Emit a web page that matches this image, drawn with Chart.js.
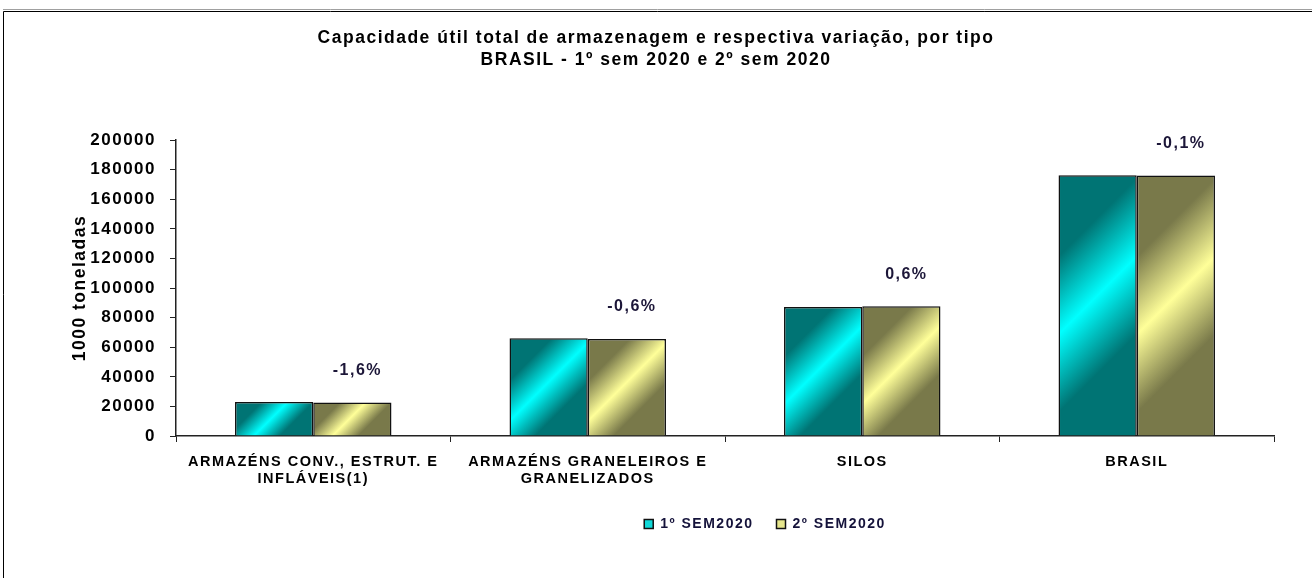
<!DOCTYPE html>
<html>
<head>
<meta charset="utf-8">
<script src="https://cdn.jsdelivr.net/npm/chart.js@4.4.1/dist/chart.umd.min.js"></script>
<style>
  html, body { margin: 0; padding: 0; background: #fff; overflow: hidden; }
  #wrap { width: 1312px; height: 578px; position: relative; }
</style>
</head>
<body>
<div id="wrap"><canvas id="chart" width="1312" height="578"></canvas></div>
<script>
const categories = [
    ['ARMAZÉNS CONV., ESTRUT. E', 'INFLÁVEIS(1)'],
    ['ARMAZÉNS GRANELEIROS E', 'GRANELIZADOS'],
    'SILOS',
    'BRASIL',
];
const seriesNames = ['1º SEM2020', '2º SEM2020'];
const sem1 = [23000, 66000, 87200, 176300];
const sem2 = [22600, 65600, 87700, 176100];
const variation = ['-1,6%', '-0,6%', '0,6%', '-0,1%'];
const yMin = 0, yMax = 200000, yStep = 20000;

const FONT = '"Liberation Sans", Arial, sans-serif';
const CAT_PCT = 0.57;
const teal = ['#007474', '#00ffff'];
const olive = ['#79794a', '#ffff99'];

// degradê diagonal tipo Excel
function barFill(ctx, colors) {
    const chart = ctx.chart;
    const xs = chart.scales.x, ys = chart.scales.y;
    if (ctx.type !== 'data' || !xs || !ys) return colors[1];
    const n = chart.data.labels.length;
    const bw = xs.width / n * CAT_PCT / 2;
    const cx = xs.getPixelForValue(ctx.dataIndex) + (ctx.datasetIndex === 0 ? -bw / 2 : bw / 2);
    const top = ys.getPixelForValue(ctx.raw), base = ys.getPixelForValue(0);
    const cy = (top + base) / 2;
    const d = (bw + (base - top)) / 4;
    const g = chart.ctx.createLinearGradient(cx - d, cy - d, cx + d, cy + d);
    g.addColorStop(0, colors[0]);
    g.addColorStop(0.24, colors[0]);
    g.addColorStop(0.47, colors[1]);
    g.addColorStop(0.7, colors[0]);
    g.addColorStop(1, colors[0]);
    return g;
}

// texto do Excel é mais espaçado
const spacing = {
    id: 'spacing',
    beforeUpdate(chart) { chart.ctx.letterSpacing = '1.5px'; },
    afterLayout(chart) {
        // legenda deslocada para a direita como no original
        chart.legend.left += 109;
        chart.legend.right += 109;
    },
    beforeDraw(chart) {
        const c = chart.ctx;
        c.letterSpacing = '1.5px';
        c.save();
        c.fillStyle = '#fff';
        c.fillRect(0, 0, chart.width, chart.height);
        c.strokeStyle = '#a0a0a0';
        c.lineWidth = 1;
        c.beginPath(); c.moveTo(3, 9.5); c.lineTo(chart.width, 9.5); c.stroke();
        c.strokeStyle = '#000';
        c.beginPath(); c.moveTo(3.5, chart.height); c.lineTo(3.5, 11.5); c.lineTo(chart.width, 11.5); c.stroke();
        c.restore();
    }
};

const pctLabels = {
    id: 'pctLabels',
    afterDatasetsDraw(chart) {
        const c = chart.ctx;
        const meta = chart.getDatasetMeta(1);
        c.save();
        c.font = 'bold 16px ' + FONT;
        c.fillStyle = '#1c1638';
        c.textAlign = 'center';
        c.textBaseline = 'middle';
        meta.data.forEach(function(bar, i) {
            c.fillText(variation[i], bar.x + 5, bar.y - 32);
        });
        c.restore();
    }
};

new Chart(document.getElementById('chart'), {
    type: 'bar',
    data: {
        labels: categories,
        datasets: [
            { label: seriesNames[0], data: sem1, backgroundColor: function(ctx) { return barFill(ctx, teal); } },
            { label: seriesNames[1], data: sem2, backgroundColor: function(ctx) { return barFill(ctx, olive); } },
        ],
    },
    options: {
        responsive: false,
        animation: false,
        layout: { padding: { top: 0, left: 0, right: 0, bottom: 37 } },
        datasets: {
            bar: { categoryPercentage: CAT_PCT, barPercentage: 1, borderColor: '#111', borderWidth: 1.5, borderSkipped: 'bottom' },
        },
        plugins: {
            title: {
                display: true,
                text: ['Capacidade útil total de armazenagem e respectiva variação, por tipo', 'BRASIL - 1º sem 2020 e 2º sem 2020'],
                color: '#000',
                font: { family: FONT, size: 17.5, weight: 'bold', lineHeight: 1.26 },
                padding: { top: 27, bottom: 69 },
            },
            legend: {
                position: 'bottom',
                labels: {
                    font: { family: FONT, size: 14, weight: 'bold' },
                    color: '#14123a',
                    boxWidth: 9,
                    boxHeight: 9,
                    padding: 23,
                    generateLabels: function(chart) {
                        return seriesNames.map(function(name, i) {
                            return {
                                text: name,
                                datasetIndex: i,
                                fillStyle: i === 0 ? '#10d8d8' : '#e6e68c',
                                strokeStyle: '#111',
                                lineWidth: 1.5,
                                fontColor: '#14123a',
                            };
                        });
                    },
                },
            },
            tooltip: { enabled: false },
        },
        scales: {
            x: {
                afterFit: function(scale) { scale.height = 58; },
                grid: { display: true, drawOnChartArea: false, drawTicks: true, tickLength: 6, color: '#222', offset: true },
                border: { color: '#222', width: 1.5 },
                ticks: { color: '#000', font: { family: FONT, size: 14.5, weight: 'bold', lineHeight: 1.17 }, padding: 12, maxRotation: 0, autoSkip: false },
            },
            y: {
                min: yMin,
                max: yMax,
                afterFit: function(scale) { scale.width = 176; },
                grid: { drawOnChartArea: false, drawTicks: true, tickLength: 6, color: '#222' },
                border: { color: '#222', width: 1.5 },
                ticks: {
                    stepSize: yStep,
                    color: '#000',
                    font: { family: FONT, size: 17, weight: 'bold' },
                    padding: 14,
                    callback: function(v) { return String(v); },
                },
                title: {
                    display: true,
                    text: '1000 toneladas',
                    color: '#000',
                    font: { family: FONT, size: 17.5, weight: 'bold' },
                    padding: { top: 70, bottom: 0 },
                },
            },
            // margem direita vazia, para o título ficar centrado na página
            yRight: {
                position: 'right',
                type: 'linear',
                afterFit: function(scale) { scale.width = 38; },
                grid: { display: false },
                border: { display: false },
                ticks: { display: false },
            },
        },
    },
    plugins: [spacing, pctLabels],
});
</script>
</body>
</html>
